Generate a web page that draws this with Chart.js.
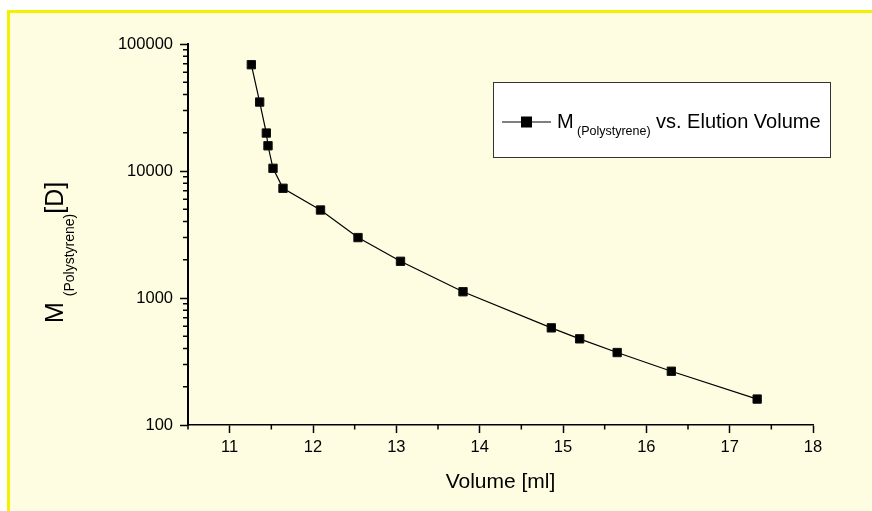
<!DOCTYPE html>
<html>
<head>
<meta charset="utf-8">
<script src="https://cdn.jsdelivr.net/npm/chart.js@4.4.0/dist/chart.umd.min.js"></script>
<style>
  html, body { margin: 0; padding: 0; background: #ffffff; }
  #wrap { position: absolute; left: 0; top: 0; width: 872px; height: 511px; overflow: hidden; }
  #bg { position: absolute; left: 7px; top: 10px; right: -10px; bottom: -10px;
        background: #fffde1; border-top: 3px solid #f5f000; border-left: 3px solid #f5f000; }
  #c { position: absolute; left: 0; top: 0; }
</style>
</head>
<body>
<div id="wrap">
  <div id="bg"></div>
  <canvas id="c" width="872" height="511"></canvas>
</div>
<script>
// ---- data ----
const elutionVolume = [11.26, 11.36, 11.44, 11.46, 11.52, 11.64, 12.09, 12.54, 13.05, 13.80, 14.86, 15.20, 15.65, 16.30, 17.33];
const molarMass     = [68700, 34900, 19900, 15800, 10500, 7310, 4930, 2990, 1945, 1120, 582, 477, 372, 265, 160];

const xMin = 10.5, xMax = 18, xStep = 0.5;
const xTickLabels = [11, 12, 13, 14, 15, 16, 17, 18];
const yMin = 100, yMax = 100000;
const yMajorTicks = [100, 1000, 10000, 100000];

const seriesLabel = { main: 'M', sub: '(Polystyrene)', rest: 'vs. Elution Volume' };
const yTitle = { main: 'M', sub: '(Polystyrene)', rest: '[D]' };
const xTitle = 'Volume [ml]';

const FONT = '"Liberation Sans", Arial, Helvetica, sans-serif';

function isXMajor(v) { return Math.abs(v - Math.round(v)) < 1e-6; }
function isYMajor(v) { return yMajorTicks.some(t => Math.abs(t - v) < 1e-6 * t); }

const minorTicksPlugin = {
  id: 'minorTicks',
  afterDraw(chart) {
    const ctx = chart.ctx;
    const xs = chart.scales.x, ys = chart.scales.y;
    ctx.save();
    ctx.strokeStyle = '#000';
    ctx.lineWidth = 1.5;
    ctx.beginPath();
    xs.ticks.forEach(t => {
      if (!isXMajor(t.value)) {
        const px = xs.getPixelForValue(t.value);
        ctx.moveTo(px, xs.top);
        ctx.lineTo(px, xs.top + 4.5);
      }
    });
    ys.ticks.forEach(t => {
      if (!isYMajor(t.value)) {
        const py = ys.getPixelForValue(t.value);
        ctx.moveTo(ys.right, py);
        ctx.lineTo(ys.right - 5, py);
      }
    });
    ctx.stroke();
    ctx.restore();
  }
};

const titlesPlugin = {
  id: 'titles',
  afterDraw(chart) {
    const ctx = chart.ctx;
    const area = chart.chartArea;
    ctx.save();
    ctx.fillStyle = '#000';
    // X title
    ctx.font = '21px ' + FONT;
    ctx.textAlign = 'center';
    ctx.textBaseline = 'alphabetic';
    ctx.fillText(xTitle, (area.left + area.right) / 2, 488);

    // Y title, rotated
    ctx.save();
    ctx.translate(63, 323);
    ctx.rotate(-Math.PI / 2);
    ctx.textAlign = 'left';
    let x = 0;
    ctx.font = '25px ' + FONT;
    ctx.fillText(yTitle.main, x, 0);
    x += ctx.measureText(yTitle.main + ' ').width - 1;
    ctx.font = '14px ' + FONT;
    ctx.fillText(yTitle.sub, x, 10.5);
    x += ctx.measureText(yTitle.sub).width;
    ctx.font = '25px ' + FONT;
    ctx.fillText(yTitle.rest, x, 0);
    ctx.restore();

    // Legend box
    ctx.fillStyle = '#ffffff';
    ctx.fillRect(493, 82.5, 338, 75);
    ctx.strokeStyle = '#333';
    ctx.lineWidth = 1;
    ctx.strokeRect(493.5, 82.5, 337, 75);
    ctx.strokeStyle = '#000';
    ctx.beginPath();
    ctx.moveTo(502, 122);
    ctx.lineTo(551, 122);
    ctx.stroke();
    ctx.fillStyle = '#000';
    ctx.fillRect(521, 116.5, 11, 11);
    ctx.textAlign = 'left';
    ctx.font = '20px ' + FONT;
    ctx.fillText(seriesLabel.main, 557, 128);
    ctx.font = '12.5px ' + FONT;
    ctx.fillText(seriesLabel.sub, 577, 135);
    ctx.font = '20px ' + FONT;
    ctx.fillText(seriesLabel.rest, 656, 128);
    ctx.restore();
  }
};

new Chart(document.getElementById('c'), {
  type: 'line',
  data: {
    datasets: [{
      label: seriesLabel.main + ' ' + seriesLabel.sub + ' ' + seriesLabel.rest,
      data: elutionVolume.map((v, i) => ({ x: v, y: molarMass[i] })),
      borderColor: '#000',
      borderWidth: 1.2,
      backgroundColor: '#000',
      pointStyle: 'rect',
      pointRadius: 5.9,
      pointBorderWidth: 1,
      pointBorderColor: '#111',
      pointBackgroundColor: '#000',
      tension: 0
    }]
  },
  options: {
    responsive: false,
    animation: false,
    events: [],
    layout: { padding: { left: 0, right: 59, top: 44, bottom: 0 } },
    plugins: { legend: { display: false }, tooltip: { enabled: false } },
    scales: {
      x: {
        type: 'linear',
        min: xMin, max: xMax,
        afterFit(s) { s.height = 86; },
        afterBuildTicks(s) {
          const t = [];
          for (let v = xMin; v <= xMax + 1e-9; v += xStep) t.push({ value: Math.round(v * 10) / 10 });
          s.ticks = t;
        },
        border: { display: true, color: '#000', width: 1.5 },
        grid: {
          display: true, drawOnChartArea: false, drawTicks: true, tickLength: 8, tickWidth: 1.5,
          tickColor: c => (c.tick && isXMajor(c.tick.value) && c.tick.value >= xTickLabels[0]) ? '#000' : 'rgba(0,0,0,0)'
        },
        ticks: {
          autoSkip: false, maxRotation: 0, padding: 5, color: '#000',
          font: { family: FONT, size: 16.5 },
          callback: v => xTickLabels.includes(v) ? String(v) : ''
        }
      },
      y: {
        type: 'logarithmic',
        min: yMin, max: yMax,
        afterFit(s) { s.width = 188; },
        afterBuildTicks(s) {
          const t = [];
          for (let k = 0; k < yMajorTicks.length; k++) {
            const base = yMajorTicks[k];
            t.push({ value: base, major: true });
            if (k < yMajorTicks.length - 1) {
              for (let m = 2; m <= 9; m++) t.push({ value: base * m });
            }
          }
          s.ticks = t;
        },
        border: { display: true, color: '#000', width: 2 },
        grid: {
          display: true, drawOnChartArea: false, drawTicks: true, tickLength: 8, tickWidth: 1.5,
          tickColor: c => (c.tick && isYMajor(c.tick.value)) ? '#000' : 'rgba(0,0,0,0)'
        },
        ticks: {
          autoSkip: false, padding: 7, color: '#000',
          font: { family: FONT, size: 16.5 },
          callback: v => isYMajor(v) ? String(v) : ''
        }
      }
    }
  },
  plugins: [minorTicksPlugin, titlesPlugin]
});
</script>
</body>
</html>
